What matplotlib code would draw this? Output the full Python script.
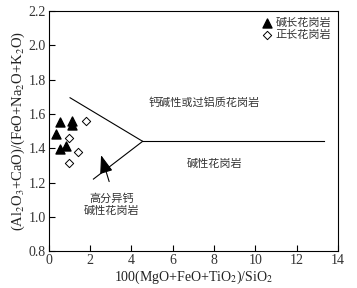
import matplotlib
matplotlib.use('Agg')
import matplotlib.pyplot as plt

plt.rcParams['font.family'] = ['Liberation Serif', 'DejaVu Serif']
plt.rcParams['mathtext.fontset'] = 'stix'

cjk = ['Noto Sans CJK SC', 'DejaVu Sans']

# alkali-feldspar granite (filled triangles)
afg_x = [0.57, 1.15, 1.15, 0.36, 0.56, 0.83]
afg_y = [1.554, 1.558, 1.535, 1.481, 1.393, 1.414]

# syenogranite (open diamonds)
sg_x = [1.79, 1.01, 1.44, 0.99]
sg_y = [1.56, 1.457, 1.377, 1.315]

# discrimination boundaries
upper_x = [1.04, 4.55]
upper_y = [1.694, 1.44]
lower_x = [2.17, 4.55]
lower_y = [1.22, 1.44]
horiz_x = [4.55, 13.3]
horiz_y = [1.44, 1.44]

fig = plt.figure(figsize=(3.57, 2.88), dpi=100)
ax = fig.add_axes([0.136, 0.128, 0.811, 0.834])

ax.plot(upper_x, upper_y, color='k', lw=0.8)
ax.plot(lower_x, lower_y, color='k', lw=0.8)
ax.plot(horiz_x, horiz_y, color='k', lw=0.8)

ax.scatter(afg_x, afg_y, marker='^', s=42, color='k', label='碱长花岗岩', zorder=3)
ax.scatter(sg_x, sg_y, marker='D', s=18, facecolors='white', edgecolors='k',
           linewidths=0.7, label='正长花岗岩', zorder=3)

ax.annotate('', xy=(2.5, 1.375), xytext=(2.97, 1.19),
            arrowprops=dict(arrowstyle='-|>,head_length=0.7,head_width=0.25',
                            mutation_scale=16, color='k', lw=0.8))

ax.text(7.5, 1.663, '钙碱性或过铝质花岗岩', family=cjk, fontsize=8,
        ha='center', va='center', color='#333333')
ax.text(8.03, 1.307, '碱性花岗岩', family=cjk, fontsize=8,
        ha='center', va='center', color='#333333')
ax.text(3.03, 1.109, '高分异钙', family=cjk, fontsize=8,
        ha='center', va='center', color='#333333')
ax.text(3.03, 1.033, '碱性花岗岩', family=cjk, fontsize=8,
        ha='center', va='center', color='#333333')

ax.set_xlim(0, 14)
ax.set_ylim(0.8, 2.2)
ax.set_xticks([0, 2, 4, 6, 8, 10, 12, 14])
ax.set_yticks([0.8, 1.0, 1.2, 1.4, 1.6, 1.8, 2.0, 2.2])
ax.set_yticklabels(['0.8', '1.0', '1.2', '1.4', '1.6', '1.8', '2.0', '2.2'])
ax.tick_params(direction='in', length=4, width=0.8, labelsize=10, pad=2,
               labelcolor='#333333')
for s in ax.spines.values():
    s.set_linewidth(0.8)

ax.set_xlabel('100(MgO+FeO+TiO$_2$)/SiO$_2$', fontsize=10, labelpad=1,
              color='#222222')
ax.set_ylabel('(Al$_2$O$_3$+CaO)/(FeO+Na$_2$O+K$_2$O)', fontsize=10.5,
              labelpad=1, color='#222222')

leg = ax.legend(loc='upper right', frameon=False, prop={'family': cjk, 'size': 8},
                handletextpad=0.3, handlelength=1.0, borderaxespad=0.2,
                labelspacing=0.25)
for t in leg.get_texts():
    t.set_color('#333333')

fig.savefig('out.png', dpi=100)
